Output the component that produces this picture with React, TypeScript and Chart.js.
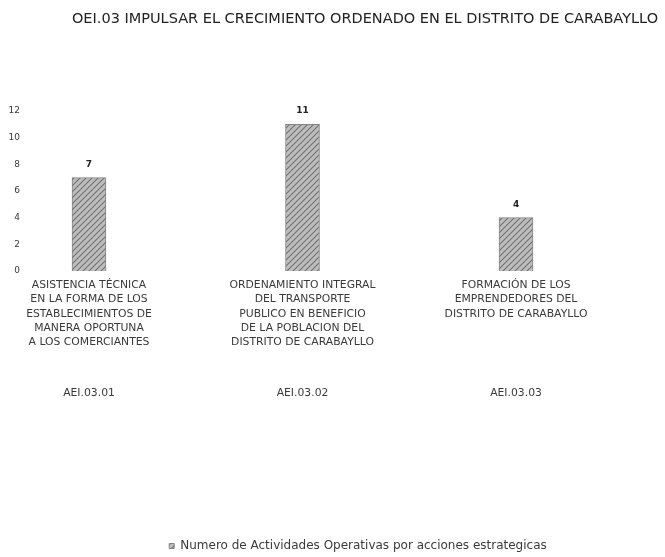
import React, { useEffect, useRef } from "react";
import { Chart, registerables } from "chart.js";

Chart.register(...registerables);

const titleText = "OEI.03 IMPULSAR EL CRECIMIENTO ORDENADO EN EL DISTRITO DE CARABAYLLO";
const categoryLines: string[][] = [
  ["ASISTENCIA TÉCNICA", "EN LA FORMA DE LOS", "ESTABLECIMIENTOS DE", "MANERA OPORTUNA", "A LOS COMERCIANTES"],
  ["ORDENAMIENTO INTEGRAL", "DEL TRANSPORTE", "PUBLICO EN BENEFICIO", "DE LA POBLACION DEL", "DISTRITO DE CARABAYLLO"],
  ["FORMACIÓN DE LOS", "EMPRENDEDORES DEL", "DISTRITO DE CARABAYLLO"],
];
const codes = ["AEI.03.01", "AEI.03.02", "AEI.03.03"];
const values = [7, 11, 4];
const seriesName = "Numero de Actividades Operativas por acciones estrategicas";
const yTicks = [0, 2, 4, 6, 8, 10, 12];

const FONT = "'DejaVu Sans', 'Liberation Sans', Arial, sans-serif";
const TEXT = "#3a3a3a";

function makePattern(): CanvasPattern | string {
  const c = document.createElement("canvas");
  c.width = 6;
  c.height = 6;
  const g = c.getContext("2d");
  if (!g) return "#a8a8a8";
  g.fillStyle = "#bdbdbd";
  g.fillRect(0, 0, 6, 6);
  g.strokeStyle = "#747474";
  g.lineWidth = 1.2;
  g.beginPath();
  g.moveTo(0, 6);
  g.lineTo(6, 0);
  g.moveTo(-3, 3);
  g.lineTo(3, -3);
  g.moveTo(3, 9);
  g.lineTo(9, 3);
  g.stroke();
  const p = g.createPattern(c, "repeat");
  return p || "#a8a8a8";
}

const labelPlugin = {
  id: "barValueLabels",
  afterDatasetsDraw(chart: any) {
    const ctx = chart.ctx;
    const meta = chart.getDatasetMeta(0);
    ctx.save();
    ctx.font = `bold 9px ${FONT}`;
    ctx.fillStyle = "#222";
    ctx.textAlign = "center";
    ctx.textBaseline = "bottom";
    meta.data.forEach((el: any, i: number) => {
      ctx.fillText(String(values[i]), el.x, el.y - 9);
    });
    ctx.restore();
  },
};

const shiftPlugin = {
  id: "shiftBoxes",
  afterLayout(chart: any) {
    const t = chart.titleBlock;
    if (t) {
      t.left += 40;
      t.right += 40;
    }
    const l = chart.legend;
    if (l) {
      l.left += 33;
      l.right += 33;
      l.top += 5;
      l.bottom += 5;
    }
  },
};

const XMIN = -0.2951;
const XMAX = 2.6276;

export default function App() {
  const ref = useRef<HTMLCanvasElement | null>(null);
  useEffect(() => {
    if (!ref.current) return;
    const pattern = makePattern();
    const noPad = (s: any) => {
      s.paddingLeft = 0;
      s.paddingRight = 0;
    };
    const chart = new Chart(ref.current, {
      type: "bar",
      data: {
        datasets: [
          {
            label: seriesName,
            data: values.map((v, i) => ({ x: i, y: v })),
            backgroundColor: pattern as any,
            borderColor: "#858585",
            borderWidth: 1,
            barThickness: 34,
            xAxisID: "x",
            yAxisID: "y",
          },
        ],
      },
      options: {
        responsive: false,
        animation: false,
        layout: { autoPadding: false, padding: { left: 0, right: 15, top: 0, bottom: 0 } },
        plugins: {
          title: {
            display: true,
            text: titleText,
            color: "#222",
            font: { size: 14.5, family: FONT, weight: "normal" },
            padding: { top: 11, bottom: 82.6 },
          },
          legend: {
            display: true,
            position: "bottom",
            labels: {
              color: TEXT,
              font: { size: 12, family: FONT },
              boxWidth: 5,
              boxHeight: 5,
              padding: 4,
            },
          },
          tooltip: { enabled: false },
        },
        scales: {
          x: {
            type: "linear",
            offset: false,
            min: XMIN,
            max: XMAX,
            position: "bottom",
            grid: { display: false, drawTicks: false, offset: false },
            border: { display: false },
            afterBuildTicks: (s: any) => {
              s.ticks = categoryLines.map((_, i) => ({ value: i }));
            },
            ticks: {
              autoSkip: false,
              maxRotation: 0,
              minRotation: 0,
              padding: 7,
              color: TEXT,
              font: { size: 10.8, family: FONT, lineHeight: 1.33 },
              callback: (v: any) => categoryLines[Math.round(Number(v))] || "",
            },
            afterFit: (s: any) => {
              s.height = 110;
              noPad(s);
            },
          },
          x2: {
            type: "linear",
            offset: false,
            min: XMIN,
            max: XMAX,
            position: "bottom",
            grid: { display: false, drawTicks: false, offset: false },
            border: { display: false },
            afterBuildTicks: (s: any) => {
              s.ticks = codes.map((_, i) => ({ value: i }));
            },
            ticks: {
              autoSkip: false,
              maxRotation: 0,
              minRotation: 0,
              padding: 5,
              color: TEXT,
              font: { size: 10.8, family: FONT, lineHeight: 1.33 },
              callback: (v: any) => codes[Math.round(Number(v))] || "",
            },
            afterFit: (s: any) => {
              s.height = 150;
              noPad(s);
            },
          },
          y: {
            min: 0,
            max: 12,
            grid: { display: false, drawTicks: false },
            border: { display: false },
            afterBuildTicks: (s: any) => {
              s.ticks = yTicks.map((v) => ({ value: v }));
            },
            ticks: {
              padding: 6,
              color: TEXT,
              font: { size: 9, family: FONT },
            },
            afterFit: (s: any) => {
              s.width = 26;
            },
          },
        },
      } as any,
      plugins: [labelPlugin, shiftPlugin],
    });
    return () => chart.destroy();
  }, []);
  return (
    <div style={{ position: "fixed", left: 0, top: 0, width: 665, height: 557, background: "#fff" }}>
      <canvas ref={ref} width={665} height={557} />
    </div>
  );
}
